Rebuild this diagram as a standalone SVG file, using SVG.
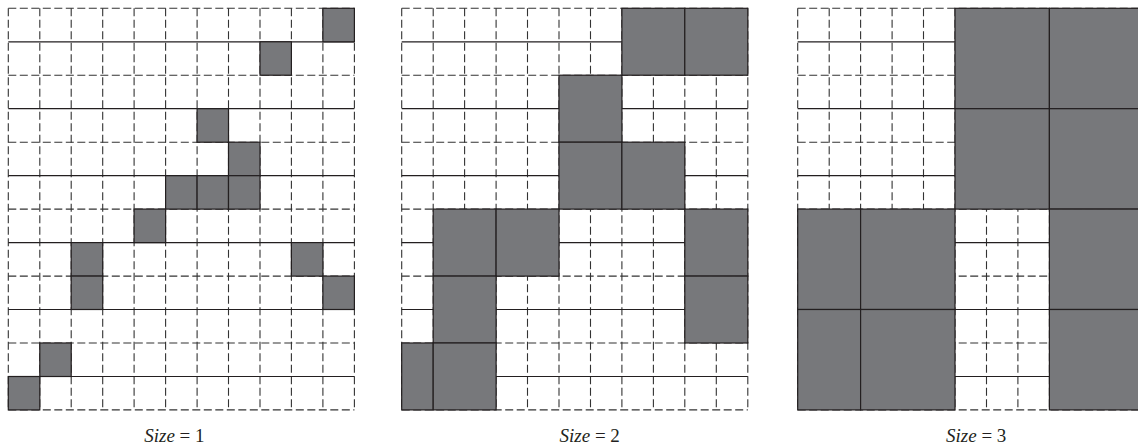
<svg xmlns="http://www.w3.org/2000/svg" width="1138" height="445" viewBox="0 0 1138 445">
<style>
.bg{fill:#ffffff}
.d{fill:none;stroke:#333333;stroke-width:1.1;stroke-dasharray:8 3.5}
.s{fill:none;stroke:#231f20;stroke-width:1.2}
.g{fill:#77787b;stroke:#231f20;stroke-width:1.2}
.lbl{font-family:"Liberation Serif","Times New Roman",serif;font-size:19px;fill:#231f20;text-anchor:middle}
.it{font-style:italic}
</style>
<rect class="bg" x="0" y="0" width="1138" height="445"/>

<g id="grid1">
<path class="d" d="M8.3 8.3V409.9M39.8 8.3V409.9M71.2 8.3V409.9M102.7 8.3V409.9M134.1 8.3V409.9M165.6 8.3V409.9M197.1 8.3V409.9M228.5 8.3V409.9M260 8.3V409.9M291.4 8.3V409.9M322.9 8.3V409.9M354.4 8.3V409.9"/>
<path class="d" d="M8.3 8.3H354.4M8.3 75.2H354.4M8.3 142.2H354.4M8.3 209.1H354.4M8.3 276.1H354.4M8.3 343H354.4M8.3 409.9H354.4"/>
<path class="s" d="M8.3 41.8H354.4M8.3 108.7H354.4M8.3 175.7H354.4M8.3 242.6H354.4M8.3 309.5H354.4M8.3 376.5H354.4"/>
<rect class="g" x="322.9" y="8.3" width="31.5" height="33.5"/>
<rect class="g" x="260" y="41.8" width="31.4" height="33.4"/>
<rect class="g" x="197.1" y="108.7" width="31.4" height="33.5"/>
<rect class="g" x="228.5" y="142.2" width="31.5" height="33.5"/>
<rect class="g" x="165.6" y="175.7" width="31.5" height="33.4"/>
<rect class="g" x="197.1" y="175.7" width="31.4" height="33.4"/>
<rect class="g" x="228.5" y="175.7" width="31.5" height="33.4"/>
<rect class="g" x="134.1" y="209.1" width="31.5" height="33.5"/>
<rect class="g" x="71.2" y="242.6" width="31.5" height="33.5"/>
<rect class="g" x="291.4" y="242.6" width="31.5" height="33.5"/>
<rect class="g" x="71.2" y="276.1" width="31.5" height="33.4"/>
<rect class="g" x="322.9" y="276.1" width="31.5" height="33.4"/>
<rect class="g" x="39.8" y="343" width="31.4" height="33.5"/>
<rect class="g" x="8.3" y="376.5" width="31.5" height="33.4"/>
<text class="lbl" x="174.4" y="442"><tspan class="it">Size</tspan> = 1</text>
</g>

<g id="grid2">
<path class="d" d="M401.7 8.3V409.9M433.2 8.3V409.9M464.6 8.3V409.9M496.1 8.3V409.9M527.5 8.3V409.9M559 8.3V409.9M590.5 8.3V409.9M621.9 8.3V409.9M653.4 8.3V409.9M684.8 8.3V409.9M716.3 8.3V409.9M747.8 8.3V409.9"/>
<path class="d" d="M401.7 8.3H747.8M401.7 75.2H747.8M401.7 142.2H747.8M401.7 209.1H747.8M401.7 276.1H747.8M401.7 343H747.8M401.7 409.9H747.8"/>
<path class="s" d="M401.7 41.8H747.8M401.7 108.7H747.8M401.7 175.7H747.8M401.7 242.6H747.8M401.7 309.5H747.8M401.7 376.5H747.8"/>
<rect class="g" x="621.9" y="8.3" width="62.9" height="66.9"/>
<rect class="g" x="684.8" y="8.3" width="63" height="66.9"/>
<rect class="g" x="559" y="75.2" width="62.9" height="67"/>
<rect class="g" x="559" y="142.2" width="62.9" height="66.9"/>
<rect class="g" x="621.9" y="142.2" width="62.9" height="66.9"/>
<rect class="g" x="433.2" y="209.1" width="62.9" height="67"/>
<rect class="g" x="496.1" y="209.1" width="62.9" height="67"/>
<rect class="g" x="684.8" y="209.1" width="63" height="67"/>
<rect class="g" x="433.2" y="276.1" width="62.9" height="66.9"/>
<rect class="g" x="684.8" y="276.1" width="63" height="66.9"/>
<rect class="g" x="401.7" y="343" width="31.5" height="66.9"/>
<rect class="g" x="433.2" y="343" width="62.9" height="66.9"/>
<text class="lbl" x="589.7" y="442"><tspan class="it">Size</tspan> = 2</text>
</g>

<g id="grid3">
<path class="d" d="M797.7 8.3V409.9M829.2 8.3V409.9M860.6 8.3V409.9M892.1 8.3V409.9M923.5 8.3V409.9M955 8.3V409.9M986.5 8.3V409.9M1017.9 8.3V409.9M1049.4 8.3V409.9M1080.8 8.3V409.9M1112.3 8.3V409.9"/>
<path class="d" d="M797.7 8.3H1143.8M797.7 75.2H1143.8M797.7 142.2H1143.8M797.7 209.1H1143.8M797.7 276.1H1143.8M797.7 343H1143.8M797.7 409.9H1143.8"/>
<path class="s" d="M797.7 41.8H1143.8M797.7 108.7H1143.8M797.7 175.7H1143.8M797.7 242.6H1143.8M797.7 309.5H1143.8M797.7 376.5H1143.8"/>
<rect class="g" x="955" y="8.3" width="94.4" height="100.4"/>
<rect class="g" x="1049.4" y="8.3" width="94.4" height="100.4"/>
<rect class="g" x="955" y="108.7" width="94.4" height="100.4"/>
<rect class="g" x="1049.4" y="108.7" width="94.4" height="100.4"/>
<rect class="g" x="797.7" y="209.1" width="62.9" height="100.4"/>
<rect class="g" x="860.6" y="209.1" width="94.4" height="100.4"/>
<rect class="g" x="1049.4" y="209.1" width="94.4" height="100.4"/>
<rect class="g" x="797.7" y="309.5" width="62.9" height="100.4"/>
<rect class="g" x="860.6" y="309.5" width="94.4" height="100.4"/>
<rect class="g" x="1049.4" y="309.5" width="94.4" height="100.4"/>
<text class="lbl" x="976.2" y="442"><tspan class="it">Size</tspan> = 3</text>
</g>
</svg>
